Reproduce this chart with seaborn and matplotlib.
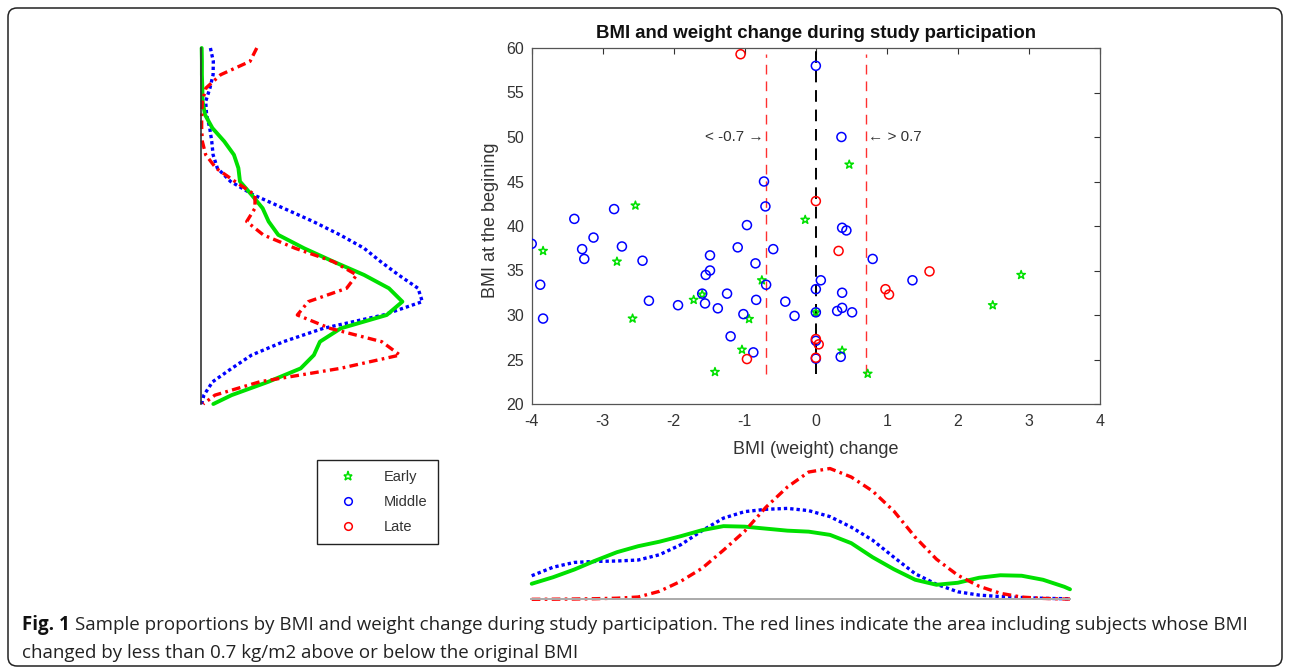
import numpy as np
import pandas as pd
import matplotlib
matplotlib.use('Agg')
import matplotlib.pyplot as plt
from matplotlib.patches import FancyBboxPatch
from matplotlib.lines import Line2D
import seaborn as sns

# ---- scatter: BMI change vs BMI at beginning, per group ----
early_chg = [-2.54, 0.47, -3.84, -2.80, -2.58, -1.72, -1.60, -1.42, -1.04, -0.94,
             -0.76, -0.15, 0.0, 0.37, 0.73, 2.49, 2.89]
early_bmi = [42.3, 46.9, 37.2, 36.0, 29.6, 31.7, 32.3, 23.6, 26.1, 29.55,
             33.9, 40.7, 30.3, 26.0, 23.4, 31.1, 34.5]

middle_chg = [-4.0, -3.88, -3.84, -3.40, -3.29, -3.26, -3.13, -2.84, -2.73, -2.44,
              -2.35, -1.94, -1.60, -1.56, -1.49, -1.49, -1.55, -1.38, -1.25, -1.20,
              -1.10, -0.97, -1.02, -0.85, -0.84, -0.88, -0.71, -0.70, -0.73, -0.60,
              -0.43, -0.30, 0.0, 0.36, 0.37, 0.43, 0.80, 0.07, 0.0, 0.37,
              1.36, 0.0, 0.30, 0.37, 0.51, 0.0, 0.0, 0.35]
middle_bmi = [38.0, 33.4, 29.6, 40.8, 37.4, 36.3, 38.7, 41.9, 37.7, 36.1,
              31.6, 31.1, 32.4, 31.3, 36.7, 35.0, 34.5, 30.75, 32.4, 27.6,
              37.6, 40.1, 30.1, 35.8, 31.7, 25.8, 42.2, 33.4, 45.0, 37.4,
              31.5, 29.9, 58.0, 50.0, 39.8, 39.5, 36.3, 33.9, 32.9, 32.5,
              33.9, 30.3, 30.45, 30.8, 30.3, 27.1, 25.1, 25.3]

late_chg = [-1.06, 0.0, 0.32, 1.60, 0.98, 1.03, 0.0, 0.04, 0.0, -0.97]
late_bmi = [59.3, 42.8, 37.2, 34.9, 32.9, 32.3, 27.3, 26.7, 25.2, 25.05]

cut_lines = [-0.7, 0.7]

# ---- left panel: BMI density (relative units) ----
bmi_grid = [60, 58.5, 57, 55.5, 54, 52.5, 51, 49.5, 48, 46.5, 45, 43.5, 42, 40.5,
            39, 37.5, 36, 34.5, 33, 31.5, 30, 28.5, 27, 25.5, 24, 22.5, 21, 20]
bmi_dens_early = [0.003, 0.004, 0.004, 0.006, 0.007, 0.018, 0.051, 0.104, 0.147, 0.167,
                  0.174, 0.226, 0.275, 0.302, 0.345, 0.460, 0.591, 0.728, 0.839, 0.899,
                  0.829, 0.624, 0.531, 0.504, 0.445, 0.301, 0.137, 0.055]
bmi_dens_middle = [0.042, 0.055, 0.054, 0.040, 0.021, 0.025, 0.039, 0.048, 0.054, 0.073,
                   0.132, 0.234, 0.368, 0.501, 0.621, 0.728, 0.802, 0.882, 0.969, 0.988,
                   0.814, 0.546, 0.368, 0.226, 0.137, 0.052, 0.013, 0.003]
bmi_dens_late = [0.249, 0.219, 0.088, 0.022, 0.006, 0.003, 0.003, 0.006, 0.021, 0.067,
                 0.152, 0.241, 0.241, 0.204, 0.278, 0.420, 0.591, 0.695, 0.650, 0.479,
                 0.430, 0.576, 0.807, 0.888, 0.621, 0.263, 0.0625, 0.010]

# ---- bottom panel: BMI change density (arbitrary units) ----
chg_grid = [-4.0, -3.7, -3.4, -3.1, -2.8, -2.5, -2.2, -1.9, -1.6, -1.3, -1.0, -0.7, -0.4,
            -0.1, 0.2, 0.5, 0.8, 1.1, 1.4, 1.7, 2.0, 2.3, 2.6, 2.9, 3.2, 3.5, 3.58]
chg_dens_early = [15.5, 22, 29.7, 38.7, 47, 53, 57.5, 63, 69, 73, 72.5, 70.5, 68.5,
                  67.5, 64.3, 56, 42, 30, 19.5, 14.5, 16.5, 21.5, 24, 23.5, 19.5, 12.5, 10]
chg_dens_middle = [23.5, 32, 36.8, 37.8, 38.2, 39.2, 44.5, 54.5, 68.5, 81, 87.5, 89.8, 90.7,
                   88.5, 82.5, 72, 59, 42, 25.5, 15, 7.5, 4.2, 2.7, 1.8, 1, 0.6, 0.5]
chg_dens_late = [0, 0.1, 0.3, 0.6, 1.1, 2.3, 8, 18, 31, 49, 68, 92, 112,
                 127, 130.5, 122, 108, 88, 62, 40, 24, 13, 6, 2.2, 0.9, 0.3, 0.3]

groups = ['Early', 'Middle', 'Late']
colors = {'Early': '#00e000', 'Middle': '#0000ff', 'Late': '#ff0000'}
line_styles = {'Early': '-', 'Middle': (0, (1, 0.9)), 'Late': (0, (2.6, 1.3, 0.8, 1.3))}
line_widths = {'Early': 2.8, 'Middle': 2.4, 'Late': 2.4}

sns.set_style('white')
plt.rcParams['font.family'] = ['Liberation Sans', 'DejaVu Sans']
plt.rcParams['axes.unicode_minus'] = False

W, H = 1290, 672
fig = plt.figure(figsize=(W / 100, H / 100), dpi=100)

# background axes in pixel units for frame and caption
bg = fig.add_axes([0, 0, 1, 1], zorder=-5)
bg.set_xlim(0, W)
bg.set_ylim(H, 0)
bg.axis('off')
bg.add_patch(FancyBboxPatch((8, 8), 1274, 658, boxstyle='round,pad=0,rounding_size=9',
                            fill=False, ec='#222222', lw=1.1, mutation_aspect=1))


def px_rect(x0, y0, x1, y1):
    return [x0 / W, 1 - y1 / H, (x1 - x0) / W, (y1 - y0) / H]


# ---- main scatter ----
ax = fig.add_axes(px_rect(531.7, 48, 1100, 404))
df = pd.DataFrame({
    'change': early_chg + middle_chg + late_chg,
    'bmi': early_bmi + middle_bmi + late_bmi,
    'group': ['Early'] * len(early_chg) + ['Middle'] * len(middle_chg) + ['Late'] * len(late_chg),
})
all_bmi = early_bmi + middle_bmi + late_bmi
ax.vlines(cut_lines, min(all_bmi), max(all_bmi), colors='#ff3030', lw=1.0,
          linestyles=(0, (7, 5)), zorder=2)
ax.vlines([0], min(all_bmi), 60, colors='black', lw=1.4, linestyles=(0, (6, 4)), zorder=2)

sns.scatterplot(data=df, x='change', y='bmi', hue='group', style='group', size='group',
                hue_order=groups, style_order=groups, size_order=groups,
                palette=colors, markers={'Early': '*', 'Middle': 'o', 'Late': 'o'},
                sizes={'Early': 40, 'Middle': 42, 'Late': 42},
                linewidth=1.1, ax=ax, zorder=3)
for coll in ax.collections:
    if coll.get_offsets().shape[0] > 5:
        fc = coll.get_facecolors()
        coll.set_edgecolors(fc)
        coll.set_facecolors('none')

handles, labels = ax.get_legend_handles_labels()
if ax.legend_ is not None:
    ax.legend_.remove()
leg_h, leg_l = [], []
for h, l in zip(handles, labels):
    if l not in groups:
        continue
    c = colors[l]
    mk = '*' if l == 'Early' else 'o'
    leg_h.append(Line2D([], [], ls='none', marker=mk, ms=6.5 if l == 'Early' else 5.5,
                        mfc='none', mec=c, mew=1.1))
    leg_l.append(l)

ax.set_xlim(-4, 4)
ax.set_ylim(20, 60)
ax.set_xticks(range(-4, 5))
ax.set_yticks(range(20, 61, 5))
ax.tick_params(direction='in', top=True, right=True, length=4, width=0.8,
               labelsize=11.5, colors='#333333')
ax.tick_params(axis='x', pad=7.5)
ax.tick_params(axis='y', pad=5.5)
for sp in ax.spines.values():
    sp.set_color('#555555')
    sp.set_linewidth(0.9)
ax.set_xlabel('BMI (weight) change', fontsize=13, color='#333333')
ax.set_ylabel('BMI at the begining', fontsize=13, color='#333333')
ax.xaxis.set_label_coords(0.5, -0.105)
ax.yaxis.set_label_coords(-0.0575, 0.517)
ax.set_title('BMI and weight change during study participation', fontsize=13.4,
             fontweight='bold', color='#111111', pad=7)
ax.text(-0.74, 50, '< -0.7 \u2192', ha='right', va='center', fontsize=11, color='#333333')
ax.text(0.74, 50, '\u2190 > 0.7', ha='left', va='center', fontsize=11, color='#333333')

fig.legend(leg_h, leg_l, loc='upper left', bbox_to_anchor=(317 / W, 1 - 460 / H),
           frameon=True, fancybox=False, edgecolor='#222222', framealpha=1,
           fontsize=10.5, labelspacing=0.75, handlelength=2.8, handletextpad=1.1,
           borderpad=0.7, borderaxespad=0, labelcolor='#333333')

# ---- left density (BMI) ----
axL = fig.add_axes(px_rect(201, 48, 425, 404))
dens_bmi = {'Early': bmi_dens_early, 'Middle': bmi_dens_middle, 'Late': bmi_dens_late}
for g in ['Middle', 'Early', 'Late']:
    sns.lineplot(x=dens_bmi[g], y=bmi_grid, orient='y', sort=False, estimator=None,
                 color=colors[g], lw=line_widths[g], linestyle=line_styles[g],
                 ax=axL, clip_on=False)
axL.set_xlim(0, 1.0)
axL.set_ylim(20, 60)
axL.set_xticks([])
axL.set_yticks([])
axL.set_xlabel('')
axL.set_ylabel('')
for name, sp in axL.spines.items():
    sp.set_visible(name == 'left')
axL.spines['left'].set_color('#333333')
axL.spines['left'].set_linewidth(1.2)
axL.patch.set_alpha(0)

# ---- bottom density (BMI change) ----
axB = fig.add_axes(px_rect(531, 463, 1070, 599.3))
dens_chg = {'Early': chg_dens_early, 'Middle': chg_dens_middle, 'Late': chg_dens_late}
for g in ['Middle', 'Early', 'Late']:
    sns.lineplot(x=chg_grid, y=dens_chg[g], estimator=None, color=colors[g],
                 lw=line_widths[g], linestyle=line_styles[g], ax=axB, clip_on=False)
axB.set_xlim(-4.01, 3.58)
axB.set_ylim(0, 136)
axB.set_xticks([])
axB.set_yticks([])
axB.set_xlabel('')
axB.set_ylabel('')
for name, sp in axB.spines.items():
    sp.set_visible(name == 'bottom')
axB.spines['bottom'].set_color('#aaaaaa')
axB.spines['bottom'].set_linewidth(1.4)
axB.patch.set_alpha(0)

# ---- caption ----
cap_font = ['Open Sans', 'DejaVu Sans']
cap_size = 13.5
renderer = fig.canvas.get_renderer()
t1 = bg.text(22, 625, 'Fig. 1', fontsize=cap_size, fontweight='bold', family=cap_font,
             va='center', ha='left', color='#111111')
bb = t1.get_window_extent(renderer)
x_after = bb.x1 + 5
bg.text(x_after, 625, 'Sample proportions by BMI and weight change during study participation. '
        'The red lines indicate the area including subjects whose BMI',
        fontsize=cap_size, family=cap_font, va='center', ha='left', color='#222222')
bg.text(22, 653, 'changed by less than 0.7 kg/m2 above or below the original BMI',
        fontsize=cap_size, family=cap_font, va='center', ha='left', color='#222222')

fig.savefig('out.png', dpi=100)
